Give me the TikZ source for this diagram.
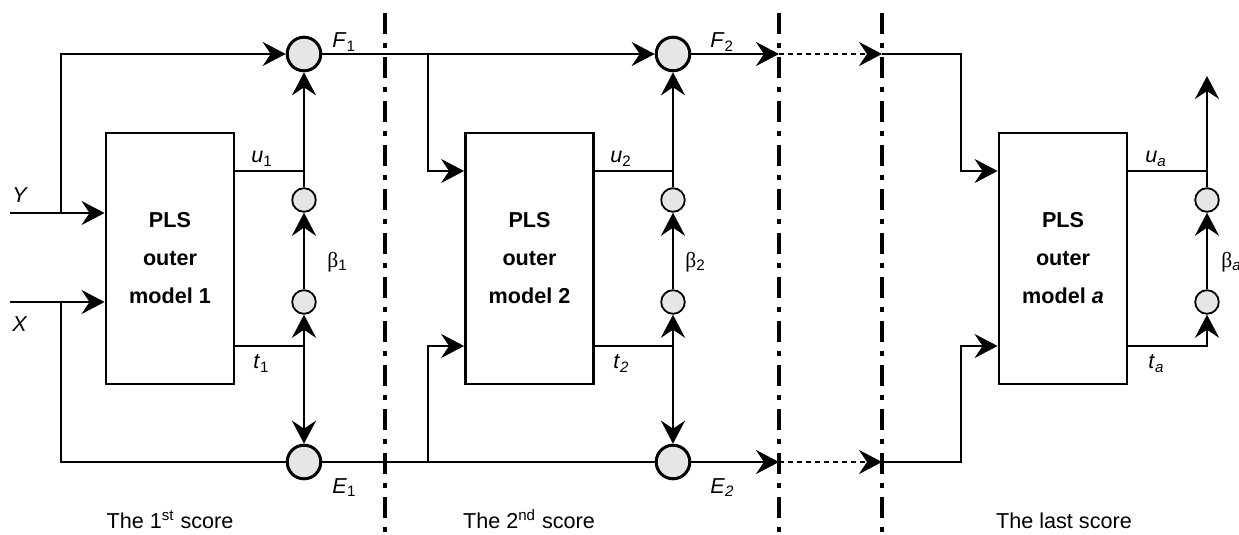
\documentclass[tikz,border=0pt]{standalone}
\usepackage{fontspec}
\setmainfont{Liberation Sans}
\newfontfamily\grkfont{Liberation Serif}
\usetikzlibrary{arrows.meta}
\definecolor{cfill}{RGB}{230,230,230}
\newcommand{\bsym}{{\grkfont β}}
\begin{document}
\begin{tikzpicture}[x=0.5pt,y=-0.5pt,
  font=\fontsize{10.8}{13}\selectfont,
  ln/.style={line width=1.4pt},
  arr/.style={ln,-{Stealth[length=11.5pt,width=12pt,inset=4pt]}},
  bigc/.style={circle,draw,line width=1.5pt,fill=cfill,minimum size=16.8pt,inner sep=0pt},
  smc/.style={circle,draw,line width=0.9pt,fill=cfill,minimum size=11.8pt,inner sep=0pt},
  box/.style={draw,line width=1.4pt,minimum width=64pt,minimum height=125.5pt,align=center,
    font=\fontsize{10.8}{19}\selectfont\bfseries},
  sepline/.style={line width=1.9pt,dash pattern=on 10.5pt off 4.5pt on 2.5pt off 4.5pt},
  dotarr/.style={arr,dash pattern=on 2.5pt off 2pt},
  lbl/.style={inner sep=0pt}]
\useasboundingbox (0,0) rectangle (1239,535);

% separators
\coordinate (s1t) at (385,13); \coordinate (s1b) at (385,540);
\coordinate (s2t) at (779,13); \coordinate (s2b) at (779,540);
\coordinate (s3t) at (882,13); \coordinate (s3b) at (882,540);
\draw[sepline] (s1t) -- (s1b);
\draw[sepline] (s2t) -- (s2b);
\draw[sepline] (s3t) -- (s3b);

% boxes
\node[box] (b1) at (170,258.5) {PLS\\outer\\model 1};
\node[box] (b2) at (529.5,258.5) {PLS\\outer\\model 2};
\node[box] (b3) at (1063,258.5) {PLS\\outer\\model \textit{a}};

% circles
\node[bigc] (F1c) at (304,54) {};
\node[bigc] (E1c) at (304,462) {};
\node[bigc] (F2c) at (673,54) {};
\node[bigc] (E2c) at (673,462) {};
\node[smc] (s1u) at (304,200) {};
\node[smc] (s1l) at (304,302) {};
\node[smc] (s2u) at (673,200) {};
\node[smc] (s2l) at (673,302) {};
\node[smc] (s3u) at (1207,200) {};
\node[smc] (s3l) at (1207,302) {};

% coordinates
\coordinate (Yin) at (10,213);  \coordinate (yb) at (61,213);
\coordinate (Xin) at (10,302);  \coordinate (xb) at (61,302);
\coordinate (u1j) at (304,171); \coordinate (t1j) at (304,346);
\coordinate (u2j) at (673,171); \coordinate (t2j) at (673,346);
\coordinate (u3j) at (1207,171); \coordinate (t3j) at (1207,346);
\coordinate (tb2) at (428,54);  \coordinate (bb2) at (428,462);
\coordinate (a1) at (779,54);   \coordinate (a2) at (882,54);
\coordinate (a3) at (779,462);  \coordinate (a4) at (882,462);
\coordinate (k3t) at (961,54);  \coordinate (k3b) at (961,462);
\coordinate (upend) at (1207,76);

% section 1
\draw[arr] (Yin) -- (Yin -| b1.west);
\draw[arr] (yb) |- (F1c);
\draw[arr] (Xin) -- (Xin -| b1.west);
\draw[ln] (xb) |- (E1c);
\draw[arr] (b1.east |- u1j) -- (u1j) -- (F1c);
\draw[ln] (u1j) -- (s1u);
\draw[arr] (s1l) -- (s1u);
\draw[ln] (b1.east |- t1j) -- (t1j);
\draw[arr] (t1j) -- (s1l);
\draw[arr] (t1j) -- (E1c);

% section 2
\draw[arr] (F1c) -- (F2c);
\draw[ln] (E1c) -- (E2c);
\draw[arr] (tb2) |- (b2.west |- u2j);
\draw[arr] (bb2) |- (b2.west |- t2j);
\draw[arr] (b2.east |- u2j) -- (u2j) -- (F2c);
\draw[ln] (u2j) -- (s2u);
\draw[arr] (s2l) -- (s2u);
\draw[ln] (b2.east |- t2j) -- (t2j);
\draw[arr] (t2j) -- (s2l);
\draw[arr] (t2j) -- (E2c);
\draw[arr] (F2c) -- (a1);
\draw[arr] (E2c) -- (a3);
\draw[dotarr] (a1) -- (a2);
\draw[dotarr] (a3) -- (a4);

% section 3
\draw[arr] (a2) -- (k3t) |- (b3.west |- u3j);
\draw[arr] (a4) -- (k3b) |- (b3.west |- t3j);
\draw[arr] (b3.east |- u3j) -- (u3j) -- (upend);
\draw[ln] (u3j) -- (s3u);
\draw[arr] (s3l) -- (s3u);
\draw[arr] (b3.east |- t3j) -- (t3j) -- (s3l);

% labels
\node[lbl,anchor=base west] (lY) at (12,203) {\textit{Y}};
\node[lbl,anchor=base west] (lX) at (12,332) {\textit{X}};
\node[lbl,anchor=base west] (lF1) at (332,48) {\textit{F}\textsubscript{1}};
\node[lbl,anchor=base west] (lu1) at (251,163) {\textit{u}\textsubscript{1}};
\node[lbl,anchor=base west] (lt1) at (253,369) {\textit{t}\textsubscript{1}};
\node[lbl,anchor=base west] (lE1) at (332,493) {\textit{E}\textsubscript{1}};
\node[lbl,anchor=west] (lb1) at (327,262) {\bsym\textsubscript{1}};
\node[lbl,anchor=base west] (lF2) at (710,48) {\textit{F}\textsubscript{2}};
\node[lbl,anchor=base west] (lu2) at (610,163) {\textit{u}\textsubscript{2}};
\node[lbl,anchor=base west] (lt2) at (613,369) {\textit{t}\textsubscript{\textit{2}}};
\node[lbl,anchor=base west] (lE2) at (710,493) {\textit{E}\textsubscript{\textit{2}}};
\node[lbl,anchor=west] (lb2) at (685,262) {\bsym\textsubscript{2}};
\node[lbl,anchor=base west] (lua) at (1145,163) {\textit{u}\textsubscript{\textit{a}}};
\node[lbl,anchor=base west] (lta) at (1148,369) {\textit{t}\textsubscript{\textit{a}}};
\node[lbl,anchor=west] (lba) at (1221,262) {\bsym\textsubscript{\textit{a}}};
\node[lbl,anchor=base] (sc1) at (170,528) {The 1\textsuperscript{st} score};
\node[lbl,anchor=base] (sc2) at (529,528) {The 2\textsuperscript{nd} score};
\node[lbl,anchor=base] (sc3) at (1064,528) {The last score};
\end{tikzpicture}
\end{document}
